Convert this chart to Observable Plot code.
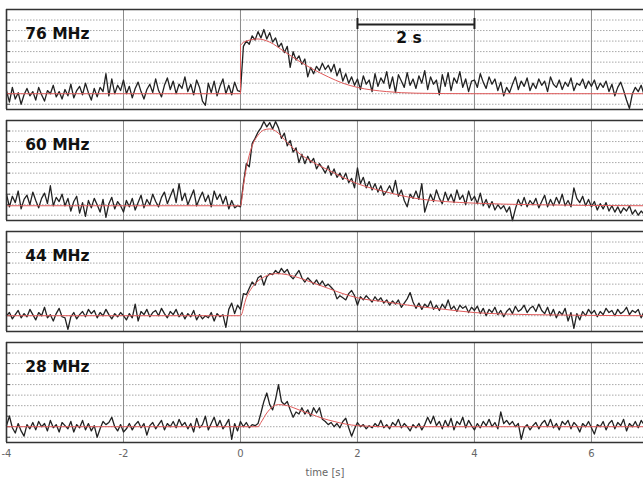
<!DOCTYPE html>
<html>
<head>
<meta charset="utf-8">
<script src="https://cdn.jsdelivr.net/npm/d3@7"></script>
<script src="https://cdn.jsdelivr.net/npm/@observablehq/plot@0.6"></script>
<style>
  html, body { margin: 0; padding: 0; background: #fff; }
  #chart { width: 643px; height: 480px; }
</style>
</head>
<body>
<div id="chart"></div>
<script>
// ---- data ----
const panels = ["76 MHz", "60 MHz", "44 MHz", "28 MHz"];
const xTicks = [-4, -2, 0, 2, 4, 6];
const gridY = [0, 1, 2, 3, 4, 5, 6, 7, 8];
const tStart = -4, tStep = 0.05; // sampling of the measured traces

const sig76 = [
  1.3, 0.2, 1.6, 0.5, 1.1, 0.0, 0.9, 1.5, 0.8, 1.2, 0.4, 1.6, 0.9, 0.3, 1.3, 1.0, 1.8, 0.7, 1.2, 0.5,
  1.4, 0.8, 1.9, 0.6, 1.3, 1.7, 0.9, 2.0, 1.1, 0.4, 1.5, 0.7, 1.6, 1.2, 2.9, 0.8, 2.4, 1.0, 1.8, 1.3,
  2.3, 1.0, 1.7, 0.6, 1.5, 2.1, 1.2, 0.5, 1.4, 1.9, 1.1, 2.4, 1.3, 0.7, 1.8, 2.5, 1.4, 2.2, 1.0, 1.9,
  1.5, 2.6, 1.2, 1.9, 0.9, 2.3, 1.6, 0.3, -0.1, 2.0, 1.1, 2.2, 0.8, 1.7, 2.4, 1.0, 1.8, 0.9, 2.1, 1.3,
  1.2, 5.5, 6.0, 5.7, 6.5, 6.1, 6.9, 6.3, 7.1, 6.2, 6.8, 5.9, 6.3, 5.4, 5.8, 4.9, 5.5, 3.5, 5.0, 4.2,
  4.6, 3.8, 4.3, 2.6, 3.5, 2.9, 3.6, 3.2, 3.9, 3.3, 3.7, 3.1, 3.8, 2.7, 3.4, 2.2, 2.9, 2.0, 2.6, 1.8,
  2.4, 1.4, 2.7, 1.9, 2.3, 1.2, 2.9, 1.7, 2.5, 2.0, 3.1, 1.5, 2.6, 1.1, 2.8, 2.2, 1.6, 3.0, 1.8, 2.4,
  1.5, 2.7, 2.0, 3.2, 1.4, 2.6, 1.9, 2.3, 0.9, 2.8, 1.7, 3.0, 1.3, 2.5, 2.0, 3.1, 1.6, 2.4, 1.2, 2.2,
  2.3, 1.6, 2.9, 2.1, 1.5, 2.6, 1.9, 2.4, 1.3, 2.1, 0.8, 1.6, 1.1, 1.9, 2.6, 1.4, 2.2, 1.7, 2.5, 1.3,
  2.0, 1.5, 2.4, 1.8, 2.2, 1.2, 2.6, 1.9, 1.6, 2.3, 1.4, 2.1, 1.7, 2.5, 1.3, 2.0, 1.8, 2.4, 1.5, 2.2,
  1.7, 2.3, 1.4, 2.0, 1.6, 2.2, 1.2, 1.9, 0.8, 1.6, 2.1, 1.3, 0.4, -0.4, 1.0, 1.6, 1.2, 1.8, 0.9
];
const sig60 = [
  2.0, 0.8, 1.8, 1.2, 2.3, 0.6, 1.5, 1.9, 1.0, 2.2, 1.4, 0.7, 1.6, 2.1, 1.1, 2.8, 0.9, 1.7, 1.3, 2.0,
  0.9, 1.6, 0.4, 1.3, 1.8, 0.2, 1.2, -0.1, 1.4, 0.7, 1.6, 1.0, 0.3, 1.5, -0.2, 1.1, 1.7, 0.6, 1.3, 0.9,
  0.3, 1.4, 0.8, 1.6, 0.5, 1.2, 1.9, 0.7, 1.5, 1.0, 2.0, 1.3, 0.8, 1.7, 2.2, 1.1, 1.8, 2.5, 1.2, 3.0,
  1.4, 2.1, 1.0, 1.7, 2.4, 0.9, 1.6, 2.2, 1.3, 1.9, 0.8, 2.3, 1.5, 2.0, 1.1, 1.8, 0.6, 1.4, 0.7, 0.9,
  0.8, 3.0, 4.9, 4.6, 6.8, 7.3, 7.9, 8.3, 8.9, 8.4, 8.8, 8.2, 8.9, 8.3, 7.3, 7.8, 6.6, 7.1, 6.0, 6.4,
  5.0, 5.8, 4.9, 5.6, 5.0, 5.4, 4.4, 4.9, 4.5, 4.0, 4.7, 3.8, 4.4, 3.6, 4.0, 3.4, 4.0, 3.1, 3.5, 2.6,
  4.5, 3.0, 3.6, 2.6, 3.2, 2.4, 3.0, 2.2, 2.8, 1.9, 2.3, 2.8, 2.1, 3.3, 1.8, 2.4, 1.4, 0.8, 2.0, 1.6,
  2.3, 1.5, 3.0, 0.3, 1.2, 2.0, 1.3, 2.4, 1.6, 1.1, 2.2, 1.4, 2.0, 1.2, 2.4, 1.5, 1.9, 1.0, 2.3, 1.4,
  1.8, 1.1, 2.1, 0.9, 1.5, 0.7, 1.3, 0.5, 1.0, 0.6, 0.9, 0.3, 0.8, -0.5, 0.6, 1.5, 0.9, 1.7, 0.8, 1.4,
  1.0, 1.6, 0.7, 1.3, 1.9, 0.8, 1.5, 0.9, 1.7, 1.1, 2.0, 0.9, 1.4, 0.8, 2.6, 1.6, 1.2, 1.8, 0.9, 1.5,
  0.8, 1.3, 0.5, 1.1, 0.6, 1.2, 0.4, 0.9, 0.3, 0.8, 0.2, 0.7, 0.4, 0.9, 0.1, 0.5, 0.0, 0.4, 0.1
];
const sig44 = [
  1.0, 1.3, 0.7, 1.1, 1.5, 0.8, 1.2, 0.9, 1.6, 1.1, 0.6, 1.3, 1.0, 1.8, 0.8, 1.1, 0.5, 1.2, 1.7, 0.9,
  0.8, -0.3, 0.9, 1.3, 0.7, 1.1, 1.4, 0.9, 1.6, 1.2, 1.5, 0.8, 1.3, 1.0, 1.6, 1.1, 0.7, 1.2, 0.9, 1.3,
  1.0, 0.6, 1.2, 0.8, 2.1, 0.5, 1.4, 1.1, 1.6, 0.9, 1.3, 1.5, 1.0, 1.7, 1.2, 0.8, 1.4, 1.1, 1.6, 0.9,
  1.3, 0.7, 1.2, 0.9, 1.5, 0.6, 1.1, 0.7, 1.0, 0.8, 1.3, 0.5, 1.2, 0.9, 1.1, -0.1, 1.6, 2.2, 1.2, 2.0,
  1.6, 3.1, 3.0, 3.6, 4.2, 3.9, 4.6, 4.8, 3.9, 4.7, 5.0, 4.9, 5.3, 5.0, 5.5, 5.1, 5.4, 4.8, 4.5, 4.9,
  5.3, 4.6, 4.2, 4.6, 4.3, 4.0, 4.4, 3.9, 4.3, 3.8, 4.0, 3.7, 3.4, 2.6, 2.9, 2.7, 2.5, 3.1, 3.4, 2.9,
  2.0, 2.8, 2.5, 2.9, 2.6, 2.3, 2.8, 2.4, 2.7, 2.2, 2.5, 2.0, 2.4, 2.1, 2.5, 1.8, 2.2, 2.6, 3.2, 2.3,
  1.7, 2.2, 1.6, 2.1, 1.8, 2.4, 1.6, 2.0, 1.5, 2.1, 1.7, 2.5, 1.6, 1.9, 1.4, 2.0, 1.7, 1.9, 1.3, 1.8,
  1.5, 1.9, 1.2, 1.7, 1.0, 1.6, 1.3, 1.8, 1.1, 1.5, 0.9, 1.4, 1.7, 1.2, 1.9, 1.4, 1.6, 2.0, 1.3, 1.7,
  1.9, 1.4, 2.1, 1.5, 1.2, 1.8, 1.0, 1.6, 0.8, 1.4, 1.1, 1.7, 0.5, 1.3, -0.2, 1.2, 0.6, 1.4, 1.0, 1.6,
  1.2, 1.5, 0.9, 1.4, 1.1, 1.7, 1.3, 1.5, 1.0, 1.6, 1.2, 1.4, 1.8, 1.1, 1.5, 1.3, 1.6, 0.8, 1.4
];
const sig28 = [
  1.1, 2.0, 0.9, 0.4, 1.3, 0.6, 0.1, 1.2, 0.8, 1.4, 0.7, 1.5, 1.0, 1.3, 0.6, 1.6, 0.9, 1.2, 0.5, 1.4,
  1.1, 0.8, 1.5, 0.5, 1.2, 0.9, 1.6, 0.7, 1.3, 0.6, 1.1, 0.0, 0.8, 1.5, 1.2, 1.4, 1.9, 1.0, 0.6, 1.2,
  0.5, 0.8, 1.3, 0.7, 1.2, 1.5, 0.9, 1.3, 0.2, 1.1, 1.4, 0.8, 1.2, 1.6, 0.7, 1.3, 1.0, 1.5, 0.9, 1.7,
  1.1, 1.4, 0.8, 1.3, 0.5, 1.8, 0.9, 1.2, 2.0, 0.7, 1.3, 1.9, 1.0, 1.6, 0.8, 1.2, 1.7, -0.2, 1.3, 0.6,
  1.5, 1.0, 1.4, 0.9, 1.2, 1.1, 1.3, 2.3, 3.4, 4.2, 3.1, 2.6, 3.6, 5.0, 3.4, 3.1, 3.4, 2.6, 1.9, 2.4,
  2.2, 2.8, 2.2, 2.6, 2.0, 2.8, 2.3, 2.8, 1.7, 1.5, 1.2, 1.4, 1.0, 1.3, 0.9, 1.5, 1.8, 0.9, 0.1, 0.8,
  1.4, 1.0, 1.2, 0.8, 1.1, 0.9, 1.3, 1.0, 1.6, 0.9, 1.2, 0.8, 1.4, 1.1, 1.7, 0.9, 1.3, 1.0, 0.6, 1.2,
  0.9, 1.3, 0.7, 1.2, 1.9, 1.3, 2.0, 1.1, 1.5, 0.8, 1.6, 1.0, 1.8, 0.7, 1.5, 1.2, 1.9, 0.9, 1.6, 1.1,
  0.7, 1.3, 0.9, 1.5, 1.1, 1.7, 1.0, 1.4, 0.8, 2.4, 1.3, 1.6, 1.2, 1.5, 1.0, 1.3, -0.2, 0.9, 1.2, 0.7,
  1.1, 1.4, 0.8, 1.3, 1.6, 1.0, 1.7, 0.9, 1.3, 0.7, 1.5, 1.2, 1.6, 0.8, 1.4, 1.1, 0.5, 1.3, 1.0, 1.5,
  0.9, 0.3, 1.2, 1.0, 1.5, 0.7, 1.3, 1.6, 0.8, 1.4, 1.1, 1.7, 0.6, 1.3, 1.0, 1.5, 0.9, 1.6, 1.2
];

// model (red) curves: knot times and values
const modT76 = [-4, 0, 0.001, 0.1, 0.3, 0.5, 0.75, 1.0, 1.25, 1.5, 1.75, 2.0, 2.5, 3.0, 4.0, 6.9];
const mod76  = [1.0, 1.0, 5.6, 6.0, 6.2, 5.9, 5.0, 4.1, 3.3, 2.6, 2.0, 1.6, 1.2, 1.05, 1.0, 1.0];
const modT60 = [-4, 0, 0.05, 0.1, 0.15, 0.2, 0.3, 0.4, 0.5, 0.6, 0.8, 1.0, 1.25, 1.5, 1.75, 2.0, 2.5, 3.0, 3.5, 4.0, 5.0, 6.9];
const mod60  = [0.9, 0.9, 2.8, 4.5, 5.7, 6.6, 7.6, 8.1, 8.2, 8.0, 6.9, 5.9, 5.0, 4.3, 3.6, 3.0, 2.2, 1.6, 1.3, 1.15, 1.0, 0.9];
const modT44 = [-4, 0, 0.1, 0.2, 0.3, 0.45, 0.6, 0.8, 1.0, 1.25, 1.5, 1.75, 2.0, 2.5, 3.0, 3.5, 4.0, 5.0, 6.9];
const mod44  = [1.0, 1.0, 2.7, 3.7, 4.3, 4.8, 5.0, 4.9, 4.6, 4.1, 3.6, 3.1, 2.7, 2.3, 1.9, 1.6, 1.3, 1.1, 1.0];
const modT28 = [-4, 0.3, 0.35, 0.45, 0.55, 0.65, 0.8, 1.0, 1.2, 1.4, 1.6, 1.8, 2.0, 2.5, 6.9];
const mod28  = [1.0, 1.0, 1.4, 2.3, 2.9, 3.1, 3.0, 2.6, 2.2, 1.8, 1.5, 1.25, 1.1, 1.0, 1.0];

const scaleBar = {panel: "76 MHz", from: 2, to: 4, label: "2 s"};

// ---- build tables ----
const signals = [sig76, sig60, sig44, sig28];
const modelsT = [modT76, modT60, modT44, modT28];
const models = [mod76, mod60, mod44, mod28];
const trace = [], model = [];
panels.forEach((p, k) => {
  signals[k].forEach((v, i) => trace.push({panel: p, t: tStart + i * tStep, v}));
  modelsT[k].forEach((t, i) => model.push({panel: p, t, v: models[k][i]}));
});

const chart = Plot.plot({
  width: 643,
  height: 480,
  marginLeft: 6,
  marginRight: 0,
  marginTop: 7,
  marginBottom: 37,
  style: {fontFamily: "DejaVu Sans", fontSize: "10px", color: "#666", background: "#fff"},
  x: {domain: [-4, 6.89], ticks: xTicks, tickSize: 0, tickPadding: 7, label: "time [s]",
      labelAnchor: "center", labelArrow: "none", labelOffset: 33, tickFormat: d => String(d)},
  y: {domain: [-0.5, 9], axis: null},
  fy: {domain: panels, axis: null, paddingInner: 0.1, paddingOuter: 0},
  marks: [
    Plot.ruleY(gridY, {stroke: "#a8a8a8", strokeDasharray: "1.5,1.5", strokeWidth: 1}),
    Plot.ruleX(xTicks.filter(d => d > -4), {stroke: "#8a8a8a", strokeWidth: 1}),
    Plot.ruleY(gridY, {x1: -4, x2: -3.93, stroke: "#444"}),
    Plot.line(trace, {x: "t", y: "v", fy: "panel", z: "panel", stroke: "#222", strokeWidth: 1.3}),
    Plot.line(model, {x: "t", y: "v", fy: "panel", z: "panel", stroke: "#e05a5a", strokeWidth: 1, curve: "monotone-x"}),
    Plot.ruleY([-0.5, 9], {stroke: "#333", strokeWidth: 1.6}),
    Plot.ruleX([-4], {stroke: "#333", strokeWidth: 1.6}),
    Plot.text(panels, {fy: d => d, text: d => d, x: -3.68, y: 6.7, textAnchor: "start",
      fontWeight: "bold", fontSize: 15.5, fill: "#111", fontFamily: "DejaVu Sans"}),
    Plot.ruleY([scaleBar], {fy: "panel", x1: "from", x2: "to", y: 7.57, stroke: "#222", strokeWidth: 2}),
    Plot.ruleX([scaleBar.from, scaleBar.to].map(x => ({x, panel: scaleBar.panel})),
      {fy: "panel", x: "x", y1: 7.1, y2: 8.15, stroke: "#222", strokeWidth: 2}),
    Plot.text([scaleBar], {fy: "panel", x: d => (d.from + d.to) / 2 - 0.12, y: 6.33, text: "label",
      fontWeight: "bold", fontSize: 15.5, fill: "#111", fontFamily: "DejaVu Sans"})
  ]
});
document.getElementById("chart").appendChild(chart);
</script>
</body>
</html>
